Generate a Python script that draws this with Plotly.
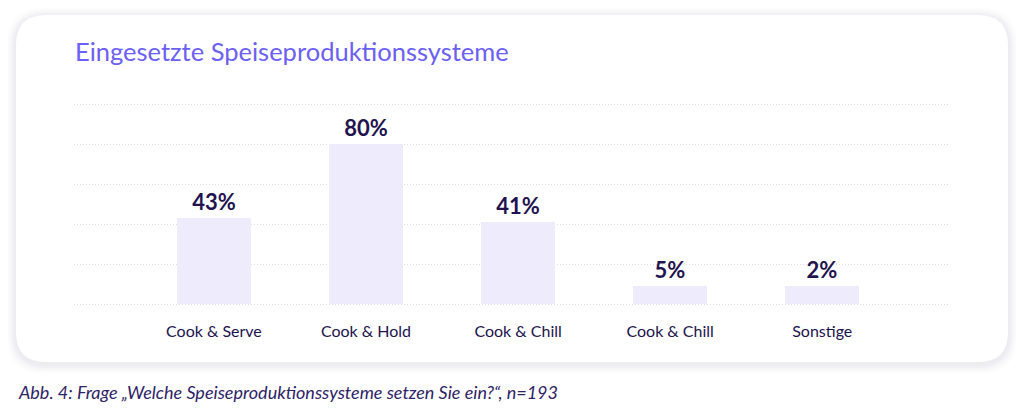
import plotly.graph_objects as go

# ---- data ----
categories = ["Cook & Serve", "Cook & Hold", "Cook & Chill", "Cook & Chill", "Sonstige"]
values = [43, 80, 41, 5, 2]
value_labels = ["43%", "80%", "41%", "5%", "2%"]
title_text = "Eingesetzte Speiseproduktionssysteme"
caption_text = "Abb. 4: Frage \u201eWelche Speiseproduktionssysteme setzen Sie ein?\u201c, n=193"

# ---- style ----
OFF = 8  # page body margin
W, H = 1024 - OFF, 416 - OFF
MIN_BAR = 9  # minimum displayed bar height (percent units)
FONT = "Lato"
NAVY = "#22134f"
TITLE_COL = "#6b60f3"
BAR_COL = "#eeecfc"

heights = [max(v, MIN_BAR) for v in values]
xpos = list(range(len(categories)))

def px_x(x):
    return (x - OFF) / W

def px_y(y):
    return 1 - (y - OFF) / H

def rounded_path(x0, y0, x1, y1, r):
    def P(x, y):
        return f"{px_x(x):.5f},{px_y(y):.5f}"
    return (f"M {P(x0 + r, y0)} L {P(x1 - r, y0)} Q {P(x1, y0)} {P(x1, y0 + r)} "
            f"L {P(x1, y1 - r)} Q {P(x1, y1)} {P(x1 - r, y1)} "
            f"L {P(x0 + r, y1)} Q {P(x0, y1)} {P(x0, y1 - r)} "
            f"L {P(x0, y0 + r)} Q {P(x0, y0)} {P(x0 + r, y0)} Z")

fig = go.Figure()
fig.add_trace(go.Bar(
    x=xpos, y=heights, text=value_labels, textposition="outside",
    textfont=dict(family=FONT, size=22, color=NAVY, weight="bold"),
    marker=dict(color=BAR_COL, line=dict(width=0)),
    width=0.487, cliponaxis=False, hoverinfo="skip",
))

shapes = []
for i, op in enumerate([0.012, 0.016, 0.02, 0.024, 0.028]):
    g = 10 - 2 * i
    shapes.append(dict(type="path", xref="paper", yref="paper", layer="below",
                       path=rounded_path(16 - g, 15 - g + 2, 1008 + g, 362 + g + 2, 30 + g),
                       fillcolor=f"rgba(60,60,110,{op})", line=dict(width=0)))
shapes.append(dict(type="path", xref="paper", yref="paper", layer="below",
                   path=rounded_path(16, 15, 1008, 362, 30),
                   fillcolor="white", line=dict(width=0)))

annotations = [
    dict(text=title_text, x=px_x(73), y=px_y(51), xref="paper", yref="paper",
         xanchor="left", yanchor="middle", showarrow=False,
         font=dict(family=FONT, size=25.5, color=TITLE_COL)),
    dict(text=f"<i>{caption_text}</i>", x=px_x(16), y=px_y(392), xref="paper", yref="paper",
         xanchor="left", yanchor="middle", showarrow=False,
         font=dict(family=FONT, size=18, color="#2e2366")),
]

fig.update_layout(
    width=W, height=H, margin=dict(l=0, r=0, t=0, b=0),
    paper_bgcolor="white", plot_bgcolor="rgba(0,0,0,0)",
    showlegend=False, shapes=shapes, annotations=annotations,
    xaxis=dict(domain=[px_x(74), px_x(950)], range=[-0.92, 4.84],
               tickvals=xpos, ticktext=categories, showgrid=False, zeroline=False,
               showline=False, ticks="", ticklabelstandoff=14,
               tickfont=dict(family=FONT, size=16, color=NAVY), fixedrange=True),
    yaxis=dict(domain=[px_y(306), px_y(102)], range=[-1, 101], dtick=20, tick0=0,
               showgrid=True, gridcolor="#dedee2", griddash="1px,2px", gridwidth=1,
               zeroline=False, showline=False, showticklabels=False, fixedrange=True),
    bargap=0,
)

fig.write_html("out.html", config=dict(displayModeBar=False))
